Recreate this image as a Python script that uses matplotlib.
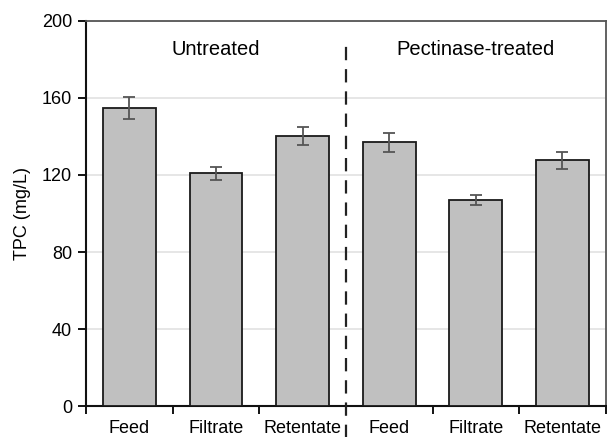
import numpy as np
import matplotlib.pyplot as plt

plt.rcParams['font.family'] = ['Liberation Sans', 'DejaVu Sans']

# TPC of feed / filtrate / retentate, untreated vs pectinase-treated juice
categories = ['Feed', 'Filtrate', 'Retentate', 'Feed', 'Filtrate', 'Retentate']
tpc = [154.8, 121.0, 140.3, 137.0, 107.0, 127.6]
tpc_err = [5.5, 3.4, 4.6, 5.0, 2.7, 4.5]
groups = ['Untreated', 'Pectinase-treated']

x = np.arange(len(categories))

fig = plt.figure(figsize=(6.07, 4.37), dpi=100)
ax = fig.add_axes([0.1417, 0.0709, 0.8563, 0.8811])

ax.bar(x, tpc, width=0.61, color='#c0c0c0', edgecolor='#1a1a1a', linewidth=1.3, zorder=3)
ax.errorbar(x, tpc, yerr=tpc_err, fmt='none', ecolor='#555555', elinewidth=1.3,
            capsize=4.5, capthick=1.3, zorder=4)

ax.set_xlim(-0.5, 5.5)
ax.set_ylim(0, 200)
ax.set_yticks([0, 40, 80, 120, 160, 200])
ax.yaxis.grid(True, color='#e4e4e4', linewidth=1.3, zorder=0)
ax.set_axisbelow(True)

# labels under bars, tick marks between categories
ax.set_xticks(x)
ax.set_xticklabels(categories)
ax.set_xticks(np.arange(-0.5, 6, 1), minor=True)
ax.tick_params(axis='x', which='major', length=0, pad=10, labelsize=13)
ax.tick_params(axis='x', which='minor', length=6, width=1.3, direction='out')
ax.tick_params(axis='y', length=6, width=1.3, direction='out', labelsize=13, pad=4)

ax.set_ylabel('TPC (mg/L)', fontsize=13, labelpad=8)

for side in ['left', 'bottom']:
    ax.spines[side].set_linewidth(1.5)
    ax.spines[side].set_color('#111111')
for side in ['top', 'right']:
    ax.spines[side].set_linewidth(1.3)
    ax.spines[side].set_color('#555555')

# separator between the two treatments
ax.plot([2.5, 2.5], [-20, 190], linestyle=(0, (6, 4)), color='#222222',
        linewidth=1.6, clip_on=False, zorder=5)

ax.text(1.0, 185, groups[0], ha='center', va='center', fontsize=14.5)
ax.text(4.0, 185, groups[1], ha='center', va='center', fontsize=14.5)

fig.savefig('out.png', dpi=100)
